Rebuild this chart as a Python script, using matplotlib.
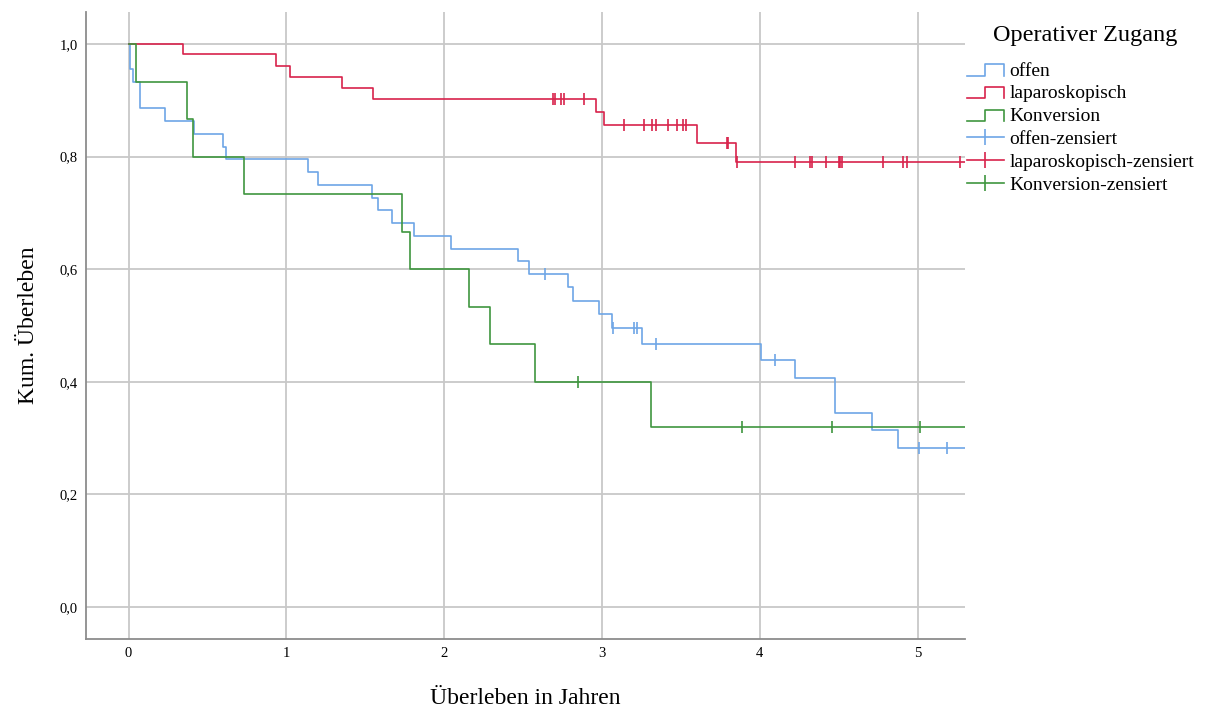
import numpy as np
import matplotlib
matplotlib.use('Agg')
import matplotlib.pyplot as plt
from matplotlib.lines import Line2D
from matplotlib.legend_handler import HandlerBase
from matplotlib.ticker import FuncFormatter

plt.rcParams['font.family'] = ['Liberation Serif', 'DejaVu Serif']

# --- Daten ---
offen_t = [0, 0.006, 0.027, 0.074, 0.232, 0.414, 0.598, 0.615, 1.136, 1.20, 1.542, 1.58,
           1.669, 1.806, 2.04, 2.47, 2.535, 2.786, 2.816, 2.98, 3.065, 3.253, 4.005,
           4.225, 4.474, 4.71, 4.875]
offen_s = [1.0, 0.955, 0.932, 0.886, 0.864, 0.841, 0.818, 0.795, 0.773, 0.750, 0.727, 0.705,
           0.682, 0.659, 0.636, 0.614, 0.591, 0.568, 0.543, 0.520, 0.496, 0.468, 0.439,
           0.407, 0.344, 0.314, 0.283]
offen_zens = [2.64, 3.07, 3.20, 3.22, 3.344, 4.095, 5.008, 5.188]

lap_t = [0, 0.344, 0.936, 1.02, 1.354, 1.548, 2.964, 3.01, 3.60, 3.85]
lap_s = [1.0, 0.982, 0.9615, 0.941, 0.922, 0.902, 0.879, 0.856, 0.825, 0.791]
lap_zens = [2.69, 2.70, 2.74, 2.76, 2.885, 3.139, 3.264, 3.319, 3.344, 3.418, 3.475, 3.513,
            3.534, 3.79, 3.80, 3.855, 4.225, 4.316, 4.333, 4.42, 4.50, 4.51, 4.52, 4.78,
            4.91, 4.93, 5.27]

konv_t = [0, 0.044, 0.37, 0.408, 0.729, 1.734, 1.785, 2.157, 2.288, 2.573, 3.308]
konv_s = [1.0, 0.933, 0.867, 0.80, 0.733, 0.667, 0.60, 0.533, 0.467, 0.40, 0.32]
konv_zens = [2.847, 3.887, 4.459, 5.013]

gruppen = ['offen', 'laparoskopisch', 'Konversion']
farben = ['#6ea6e6', '#d8234c', '#3f963f']

x_max = 5.30


def surv_at(t_list, s_list, t):
    # Wert der Treppenfunktion an der Stelle t
    idx = np.searchsorted(t_list, t, side='right') - 1
    return np.array(s_list)[idx]


class StepHandler(HandlerBase):
    def create_artists(self, legend, orig_handle, xdescent, ydescent, width, height, fontsize, trans):
        y0 = -ydescent + 0.0 * height
        y1 = -ydescent + 0.85 * height
        xs = [-xdescent, -xdescent + 0.5 * width, -xdescent + 0.5 * width, -xdescent + width, -xdescent + width]
        ys = [y0, y0, y1, y1, y0]
        ln = Line2D(xs, ys, color=orig_handle.get_color(), lw=orig_handle.get_linewidth(), transform=trans)
        return [ln]


fig = plt.figure(figsize=(12.18, 7.09), dpi=100)
ax = fig.add_axes([86 / 1218, 1 - 639 / 709, (965 - 86) / 1218, (639 - 12) / 709])

daten = [(offen_t, offen_s, offen_zens), (lap_t, lap_s, lap_zens), (konv_t, konv_s, konv_zens)]
for (t, s, z), farbe in zip(daten, farben):
    tt = list(t) + [x_max + 0.1]
    ss = list(s) + [s[-1]]
    ax.step(tt, ss, where='post', color=farbe, lw=1.2, zorder=3)
    ax.plot(z, surv_at(t, s, z), ls='none', marker='|', ms=9, mew=1.2, color=farbe, zorder=4)

ax.set_xlim(-0.27, x_max)
ax.set_ylim(-0.057, 1.057)
ax.set_xticks(range(0, 6))
ax.set_yticks(np.arange(0, 1.01, 0.2))
ax.yaxis.set_major_formatter(FuncFormatter(lambda v, p: f"{v:.1f}".replace('.', ',')))
ax.grid(True, color='#c8c8c8', lw=1.3, zorder=0)
ax.set_axisbelow(True)
ax.tick_params(length=0, labelsize=10.5, pad=6)
for sp in ['top', 'right']:
    ax.spines[sp].set_visible(False)
for sp in ['left', 'bottom']:
    ax.spines[sp].set_color('#8c8c8c')
    ax.spines[sp].set_linewidth(1.3)

ax.set_xlabel('Überleben in Jahren', fontsize=17, labelpad=20)
ax.set_ylabel('Kum. Überleben', fontsize=17, labelpad=15)

# Legende (Titel separat, damit der Abstand stimmt)
fig.text(1085 / 1218, 1 - 35 / 709, 'Operativer Zugang', ha='center', va='center', fontsize=17.5)
handles = [Line2D([], [], color=f, lw=1.2) for f in farben]
handles += [Line2D([], [], color=f, lw=1.2, marker='|', ms=12, mew=1.2) for f in farben]
labels = gruppen + [g + '-zensiert' for g in gruppen]
handler_map = {h: StepHandler() for h in handles[:3]}
leg = fig.legend(handles, labels, handler_map=handler_map, loc='upper left',
                 bbox_to_anchor=(967 / 1218, 1 - 62 / 709), frameon=False,
                 fontsize=14, handlelength=1.9, handletextpad=0.28, labelspacing=0.27,
                 borderaxespad=0, borderpad=0)

fig.savefig('out.png', dpi=100)
